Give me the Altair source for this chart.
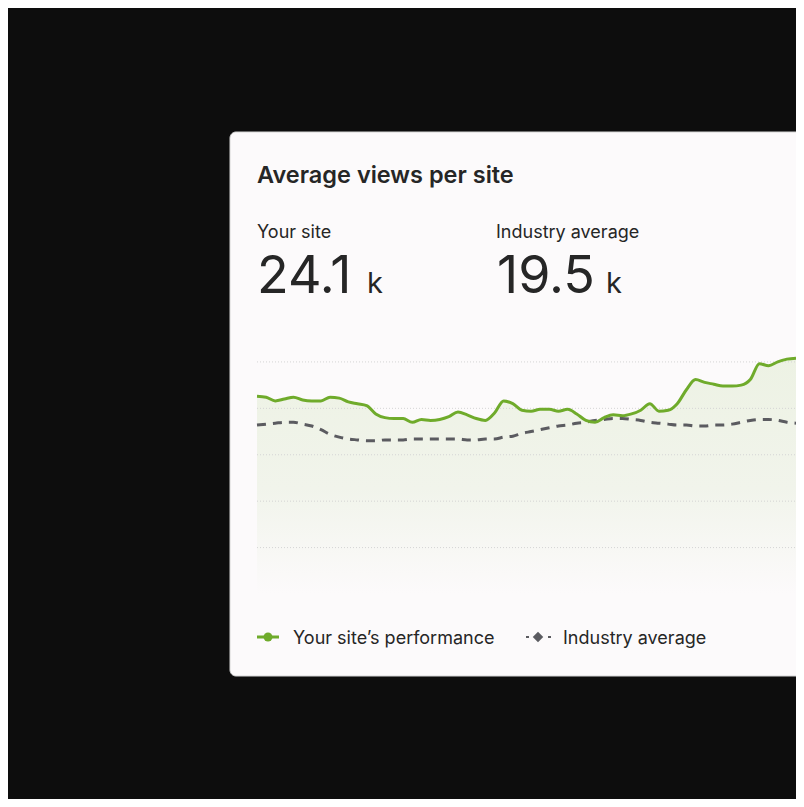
import altair as alt
import pandas as pd

# daily values, thousands of views
days = list(range(60))
your_site = [26.3, 26.2, 25.8, 26.0, 26.2, 25.9, 25.8, 25.8, 26.2, 26.1,
             25.7, 25.5, 25.3, 24.4, 24.0, 23.9, 23.9, 23.5, 23.8, 23.7,
             23.8, 24.1, 24.6, 24.3, 23.9, 23.7, 24.5, 25.8, 25.5, 24.8,
             24.7, 24.9, 24.9, 24.7, 24.9, 24.4, 23.7, 23.5, 24.0, 24.3,
             24.2, 24.4, 24.8, 25.5, 24.7, 24.8, 25.5, 27.0, 28.1, 27.8,
             27.6, 27.4, 27.4, 27.5, 28.1, 29.8, 29.6, 30.0, 30.3, 30.4]
industry = [23.2, 23.3, 23.4, 23.5, 23.5, 23.3, 23.1, 22.7, 22.2, 21.9,
            21.7, 21.6, 21.5, 21.5, 21.6, 21.6, 21.6, 21.7, 21.7, 21.7,
            21.7, 21.7, 21.7, 21.6, 21.6, 21.7, 21.7, 21.9, 22.0, 22.3,
            22.5, 22.7, 22.9, 23.1, 23.2, 23.4, 23.5, 23.7, 23.8, 23.9,
            23.9, 23.8, 23.7, 23.5, 23.4, 23.3, 23.2, 23.2, 23.1, 23.1,
            23.2, 23.2, 23.3, 23.5, 23.7, 23.8, 23.8, 23.7, 23.5, 23.4]
grid_values = [10, 15, 20, 25, 30]

title = "Average views per site"
kpi_labels = ["Your site", "Industry average"]
kpi_values = ["24.1", "19.5"]
legend_labels = ["Your site\u2019s performance", "Industry average"]

GREEN = "#6fab2b"
GREY = "#5b5b60"
INK = "#262626"
CARD = "#fcfafb"
FONT = "Inter"

W, H = 539, 246

df = pd.DataFrame({"day": days, "site": your_site, "industry": industry})
grid = pd.DataFrame({"v": grid_values})
one = pd.DataFrame({"a": [0]})

x = alt.X("day:Q", scale=alt.Scale(domain=[0, 59], nice=False, zero=False), axis=None)
y_scale = alt.Scale(domain=[5, 31.5], nice=False, zero=False)


def label(text, px, py, size, weight=400, color=INK):
    return alt.Chart(one).mark_text(
        text=text, align="left", baseline="alphabetic", font=FONT,
        fontSize=size, fontWeight=weight, color=color,
    ).encode(x=alt.value(px), y=alt.value(py))


card = alt.Chart(one).mark_rect(
    fill=CARD, stroke="#d6d6d6", strokeWidth=1, cornerRadius=6
).encode(x=alt.value(-27), x2=alt.value(620), y=alt.value(-216), y2=alt.value(328))

area = alt.Chart(df).mark_area(
    interpolate="monotone",
    color=alt.Gradient(
        gradient="linear",
        stops=[alt.GradientStop(color="#edf2e4", offset=0),
               alt.GradientStop(color="#f1f4eb", offset=0.55),
               alt.GradientStop(color=CARD, offset=1)],
        x1=1, x2=1, y1=0, y2=1,
    ),
).encode(x=x, y=alt.Y("site:Q", scale=y_scale, axis=None), y2=alt.datum(5))

rules = alt.Chart(grid).mark_rule(
    color="#d4d4d4", strokeWidth=1, strokeDash=[1, 2]
).encode(y=alt.Y("v:Q", scale=y_scale, axis=None), x=alt.value(0), x2=alt.value(W + 20))

ind_line = alt.Chart(df).mark_line(
    color=GREY, strokeWidth=3, strokeDash=[9, 7], interpolate="monotone"
).encode(x=x, y=alt.Y("industry:Q", scale=y_scale, axis=None))

site_line = alt.Chart(df).mark_line(
    color=GREEN, strokeWidth=3, interpolate="monotone"
).encode(x=x, y=alt.Y("site:Q", scale=y_scale, axis=None))

texts = [
    label(title, 0, -165, 23.5, 600),
    label(kpi_labels[0], 0, -110, 18),
    label(kpi_labels[1], 239, -110, 18),
    label(kpi_values[0], 0, -55, 52),
    label("k", 110, -55, 29),
    label(kpi_values[1], 240, -55, 52),
    label("k", 349, -55, 29),
    label(legend_labels[0], 36, 296, 18),
    label(legend_labels[1], 306, 296, 18),
]

leg_green = alt.Chart(one).mark_rule(color=GREEN, strokeWidth=3).encode(
    x=alt.value(0), x2=alt.value(22), y=alt.value(289))
leg_dot = alt.Chart(one).mark_point(
    shape="circle", filled=True, size=80, color=GREEN, opacity=1
).encode(x=alt.value(11), y=alt.value(289))
leg_grey = alt.Chart(one).mark_rule(color=GREY, strokeWidth=2, strokeDash=[3, 19]).encode(
    x=alt.value(269), x2=alt.value(294), y=alt.value(289))
leg_diamond = alt.Chart(one).mark_point(
    shape="diamond", filled=True, size=110, color=GREY, opacity=1
).encode(x=alt.value(281), y=alt.value(289))

chart = alt.layer(
    card, area, rules, ind_line, site_line, *texts,
    leg_green, leg_dot, leg_grey, leg_diamond,
).properties(
    width=W, height=H,
    background="#0d0d0d",
    padding={"left": 249, "top": 340, "right": 0, "bottom": 205},
    autosize=alt.AutoSizeParams(type="none"),
).configure_view(strokeWidth=0)

chart.save("out.html", embed_options={"renderer": "svg", "actions": False})
